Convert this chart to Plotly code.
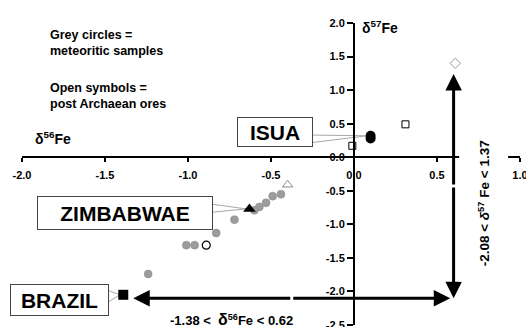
import plotly.graph_objects as go

# ---------------- data ----------------
met_x = [-0.44, -0.49, -0.53, -0.57, -0.60, -0.72, -0.83, -1.01, -0.96, -1.24]
met_y = [-0.55, -0.58, -0.68, -0.74, -0.79, -0.93, -1.13, -1.31, -1.31, -1.74]

isua_x = [0.10, 0.10]
isua_y = [0.28, 0.32]
zim_x = [-0.63]
zim_y = [-0.77]
bra_x = [-1.39]
bra_y = [-2.05]

open_sq_x = [-0.01, 0.31]
open_sq_y = [0.17, 0.49]
open_tri_x = [-0.40]
open_tri_y = [-0.41]
open_circ_x = [-0.89]
open_circ_y = [-1.31]
open_dia_x = [0.61]
open_dia_y = [1.40]

# range arrows (tips)
arrow56_x = [-1.33, 0.58]
arrow56_y = -2.10
arrow57_y = [-2.10, 1.24]
arrow57_x = 0.60

x_ticks = [-2.0, -1.5, -1.0, -0.5, 0.0, 0.5, 1.0]
x_ticktext = ["-2.0", "-1.5", "-1.0", "-0.5", "0.0", "0.5", "1.0"]
y_ticks = [-2.5, -2.0, -1.5, -1.0, -0.5, 0.0, 0.5, 1.0, 1.5, 2.0]
y_ticktext = ["-2.5", "-2.0", "-1.5", "-1.0", "-0.5", "0.0", "0.5", "1.0", "1.5", "2.0"]

X_RANGE = [-2.0, 1.0]
Y_RANGE = [-2.5, 2.0]

FONT = "Liberation Sans, Arial, sans-serif"

fig = go.Figure()

fig.add_trace(go.Scatter(x=met_x, y=met_y, mode="markers",
                         marker=dict(symbol="circle", size=8, color="#9c9c9c",
                                     line=dict(color="#8a8a8a", width=0.5))))
fig.add_trace(go.Scatter(x=open_sq_x, y=open_sq_y, mode="markers",
                         marker=dict(symbol="square-open", size=7, color="black",
                                     line=dict(width=1))))
fig.add_trace(go.Scatter(x=open_tri_x, y=open_tri_y, mode="markers",
                         marker=dict(symbol="triangle-up-open", size=9, color="#8c8c8c",
                                     line=dict(width=1))))
fig.add_trace(go.Scatter(x=open_circ_x, y=open_circ_y, mode="markers",
                         marker=dict(symbol="circle-open", size=8, color="black",
                                     line=dict(width=1.2))))
fig.add_trace(go.Scatter(x=open_dia_x, y=open_dia_y, mode="markers",
                         marker=dict(symbol="diamond-open", size=8, color="#9a9a9a",
                                     line=dict(width=1))))
fig.add_trace(go.Scatter(x=isua_x, y=isua_y, mode="markers",
                         marker=dict(symbol="circle", size=10, color="black")))
fig.add_trace(go.Scatter(x=zim_x, y=zim_y, mode="markers",
                         marker=dict(symbol="triangle-up", size=11, color="black")))
fig.add_trace(go.Scatter(x=bra_x, y=bra_y, mode="markers",
                         marker=dict(symbol="square", size=10, color="black")))

annotations = []

# range arrows (double headed: two annotations from the middle)
mid56 = (arrow56_x[0] + arrow56_x[1]) / 2
for tip in arrow56_x:
    annotations.append(dict(x=tip, y=arrow56_y, ax=mid56, ay=arrow56_y,
                            xref="x", yref="y", axref="x", ayref="y",
                            text="", showarrow=True, arrowhead=2, arrowsize=1.1,
                            arrowwidth=3, arrowcolor="black", standoff=0))
mid57 = (arrow57_y[0] + arrow57_y[1]) / 2
for tip in arrow57_y:
    annotations.append(dict(x=arrow57_x, y=tip, ax=arrow57_x, ay=mid57,
                            xref="x", yref="y", axref="x", ayref="y",
                            text="", showarrow=True, arrowhead=2, arrowsize=1.1,
                            arrowwidth=3, arrowcolor="black", standoff=0))

# legend-like notes
annotations.append(dict(x=-1.843, y=1.96, xref="x", yref="y", xanchor="left", yanchor="top",
                        text="Grey circles =<br>meteoritic samples", showarrow=False, align="left",
                        font=dict(family=FONT, size=12.5, color="black", weight="bold")))
annotations.append(dict(x=-1.843, y=1.16, xref="x", yref="y", xanchor="left", yanchor="top",
                        text="Open symbols =<br>post Archaean ores", showarrow=False, align="left",
                        font=dict(family=FONT, size=12.5, color="black", weight="bold")))

# axis titles
annotations.append(dict(x=-1.934, y=0.29, xref="x", yref="y", xanchor="left", yanchor="middle",
                        text="δ<sup>56</sup>Fe", showarrow=False,
                        font=dict(family=FONT, size=14, color="black", weight="bold")))
annotations.append(dict(x=0.036, y=1.94, xref="x", yref="y", xanchor="left", yanchor="middle",
                        text="δ<sup>57</sup>Fe", showarrow=False,
                        font=dict(family=FONT, size=14, color="black", weight="bold")))

# range texts
annotations.append(dict(x=-0.735, y=-2.42, xref="x", yref="y", xanchor="center", yanchor="middle",
                        text="-1.38 <  <span style='font-size:16px'>δ</span><sup>56</sup>Fe < 0.62",
                        showarrow=False,
                        font=dict(family=FONT, size=13, color="black", weight="bold")))
annotations.append(dict(x=0.78, y=-0.68, xref="x", yref="y", xanchor="center", yanchor="middle",
                        text="-2.08 < <i>δ</i><sup>57</sup> Fe < 1.37", textangle=-90,
                        showarrow=False, bgcolor="white", borderpad=15,
                        font=dict(family=FONT, size=13.5, color="black", weight="bold")))

# labelled boxes with leader lines
labels = [
    dict(text="ISUA", x=-0.476, y=0.375, w=74, h=28,
         lead=[(-0.247, 0.33), (-0.247, 0.22)], tx=isua_x[0], ty=isua_y[1]),
    dict(text="ZIMBABWAE", x=-1.38, y=-0.83, w=174, h=32,
         lead=[(-0.855, -0.70), (-0.855, -0.82)], tx=zim_x[0], ty=zim_y[0]),
    dict(text="BRAZIL", x=-1.774, y=-2.13, w=97, h=30,
         lead=[(-1.477, -1.99), (-1.477, -2.15)], tx=bra_x[0], ty=bra_y[0]),
]
shapes = []
for lb in labels:
    for (lx, ly) in lb["lead"]:
        shapes.append(dict(type="line", xref="x", yref="y", x0=lx, y0=ly,
                           x1=lb["tx"] - 0.02, y1=lb["ty"],
                           line=dict(color="#a8a8a8", width=1), layer="below"))
    annotations.append(dict(x=lb["x"], y=lb["y"], xref="x", yref="y",
                            text=lb["text"], showarrow=False, width=lb["w"], height=lb["h"],
                            bgcolor="white", bordercolor="#444444", borderwidth=1, borderpad=0,
                            font=dict(family=FONT, size=21, color="black", weight="bold")))

tickfont = dict(family=FONT, size=11, color="black", weight="bold")

fig.update_layout(
    width=526, height=327,
    margin=dict(l=22, r=6, t=23, b=2),
    paper_bgcolor="white", plot_bgcolor="white",
    showlegend=False,
    annotations=annotations,
    shapes=shapes,
    xaxis=dict(range=X_RANGE, domain=[0, 1], anchor="free",
               position=(0 - Y_RANGE[0]) / (Y_RANGE[1] - Y_RANGE[0]),
               showline=True, linecolor="black", linewidth=2,
               ticks="outside", ticklen=4, tickwidth=2, tickcolor="black",
               tickvals=x_ticks, ticktext=x_ticktext, tickfont=tickfont,
               ticklabelstandoff=4, ticklabeloverflow="allow",
               showgrid=False, zeroline=False, automargin=False),
    yaxis=dict(range=Y_RANGE, domain=[0, 1], anchor="free",
               position=(0 - X_RANGE[0]) / (X_RANGE[1] - X_RANGE[0]),
               showline=True, linecolor="black", linewidth=2,
               ticks="outside", ticklen=6, tickwidth=2, tickcolor="black",
               tickvals=y_ticks, ticktext=y_ticktext, tickfont=tickfont,
               ticklabeloverflow="allow",
               showgrid=False, zeroline=False, automargin=False),
)

fig.write_html("out.html", config={"displayModeBar": False},
               post_script="document.body.style.margin='0';document.body.style.overflow='hidden';")
